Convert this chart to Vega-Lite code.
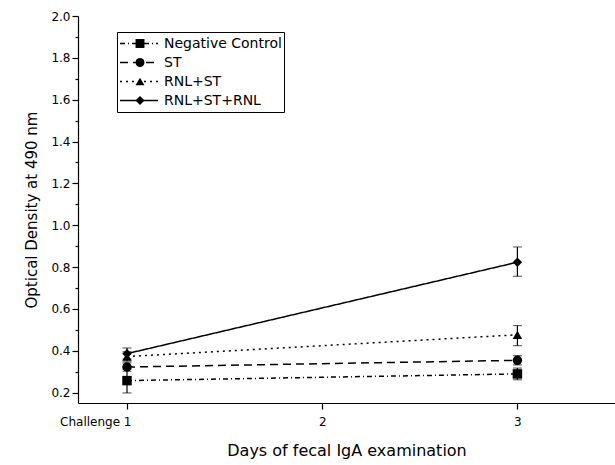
{
  "$schema": "https://vega.github.io/schema/vega-lite/v6.json",
  "width": 537,
  "height": 387,
  "autosize": {"type": "none"},
  "padding": {"left": 78, "top": 16, "right": 0, "bottom": 62},
  "background": "white",
  "config": {
    "view": {"stroke": null},
    "font": "DejaVu Sans",
    "axis": {"domainColor": "black", "tickColor": "black", "labelColor": "black", "titleColor": "black", "grid": false, "labelFontSize": 12, "titleFontSize": 16, "titleFontWeight": "normal", "labelFont": "DejaVu Sans", "titleFont": "DejaVu Sans", "domainWidth": 1.2, "tickWidth": 1.2}
  },
  "data": {"values": [
    {"series": "Negative Control", "day": 1, "od": 0.257, "lo": 0.198, "hi": 0.312},
    {"series": "Negative Control", "day": 3, "od": 0.289, "lo": 0.261, "hi": 0.317},
    {"series": "ST", "day": 1, "od": 0.322, "lo": 0.302, "hi": 0.342},
    {"series": "ST", "day": 3, "od": 0.354, "lo": 0.332, "hi": 0.376},
    {"series": "RNL+ST", "day": 1, "od": 0.372, "lo": 0.350, "hi": 0.395},
    {"series": "RNL+ST", "day": 3, "od": 0.476, "lo": 0.424, "hi": 0.520},
    {"series": "RNL+ST+RNL", "day": 1, "od": 0.386, "lo": 0.360, "hi": 0.413},
    {"series": "RNL+ST+RNL", "day": 3, "od": 0.823, "lo": 0.756, "hi": 0.896}
  ]},
  "encoding": {
    "x": {"field": "day", "type": "quantitative",
      "scale": {"domain": [0.749, 3.5], "nice": false, "zero": false},
      "axis": {"values": [1, 2, 3], "title": "Days of fecal IgA examination", "titlePadding": 15,
        "labelExpr": "datum.value == 1 ? 'Challenge  1' : datum.label",
        "labelAlign": {"condition": {"test": "datum.value == 1", "value": "right"}, "value": "center"},
        "labelOffset": {"condition": {"test": "datum.value == 1", "value": 4}, "value": 0},
        "tickSize": 6, "labelPadding": 7, "labelFlush": false, "labelOverlap": false}
    },
    "y": {"field": "od", "type": "quantitative",
      "scale": {"domain": [0.15, 2.0], "nice": false, "zero": false},
      "axis": {"values": [0.2,0.3,0.4,0.5,0.6,0.7,0.8,0.9,1.0,1.1,1.2,1.3,1.4,1.5,1.6,1.7,1.8,1.9,2.0],
        "title": "Optical Density at 490 nm", "titlePadding": 11, "titleFontSize": 15,
        "labelExpr": "round(datum.value*10) % 2 == 1 ? '' : format(datum.value, '.1f')",
        "tickSize": {"condition": {"test": "round(datum.value*10) % 2 == 1", "value": 3}, "value": 6},
        "labelPadding": 2, "labelFlush": false, "labelOverlap": false}
    }
  },
  "layer": [
    {
      "mark": {"type": "errorbar", "ticks": {"size": 9, "color": "black", "strokeWidth": 1.2}, "rule": {"color": "black", "strokeWidth": 1.2}},
      "encoding": {"y": {"field": "lo", "type": "quantitative"}, "y2": {"field": "hi"}}
    },
    {
      "mark": {"type": "line", "color": "black", "strokeWidth": 1.5},
      "encoding": {
        "strokeDash": {"field": "series", "type": "nominal",
          "scale": {"domain": ["Negative Control", "ST", "RNL+ST", "RNL+ST+RNL"], "range": [[5, 3, 1, 3], [8, 5], [2, 4], [1, 0]]},
          "legend": {"orient": "none", "legendX": 39, "legendY": 16, "title": null, "symbolType": "stroke", "symbolSize": 1444,
            "symbolStrokeColor": "black", "symbolStrokeWidth": 1.5, "clipHeight": 19, "labelFontSize": 14, "labelFont": "DejaVu Sans", "labelColor": "black",
            "strokeColor": "black", "padding": 2, "rowPadding": 0, "labelOffset": 5}
        }
      }
    },
    {
      "mark": {"type": "point", "filled": true, "color": "black", "opacity": 1, "size": 90},
      "encoding": {
        "shape": {"field": "series", "type": "nominal",
          "sort": ["Negative Control", "ST", "RNL+ST", "RNL+ST+RNL"],
          "scale": {"range": ["square", "circle", "triangle-up", "diamond"]},
          "legend": {"orient": "none", "legendX": 39, "legendY": 16, "title": null, "symbolSize": 80, "symbolFillColor": "black", "symbolStrokeColor": "black",
            "clipHeight": 19, "labelFontSize": 14, "labelExpr": "''", "padding": 2, "rowPadding": 0, "symbolOffset": 14, "strokeColor": null}
        }
      }
    }
  ]
}
